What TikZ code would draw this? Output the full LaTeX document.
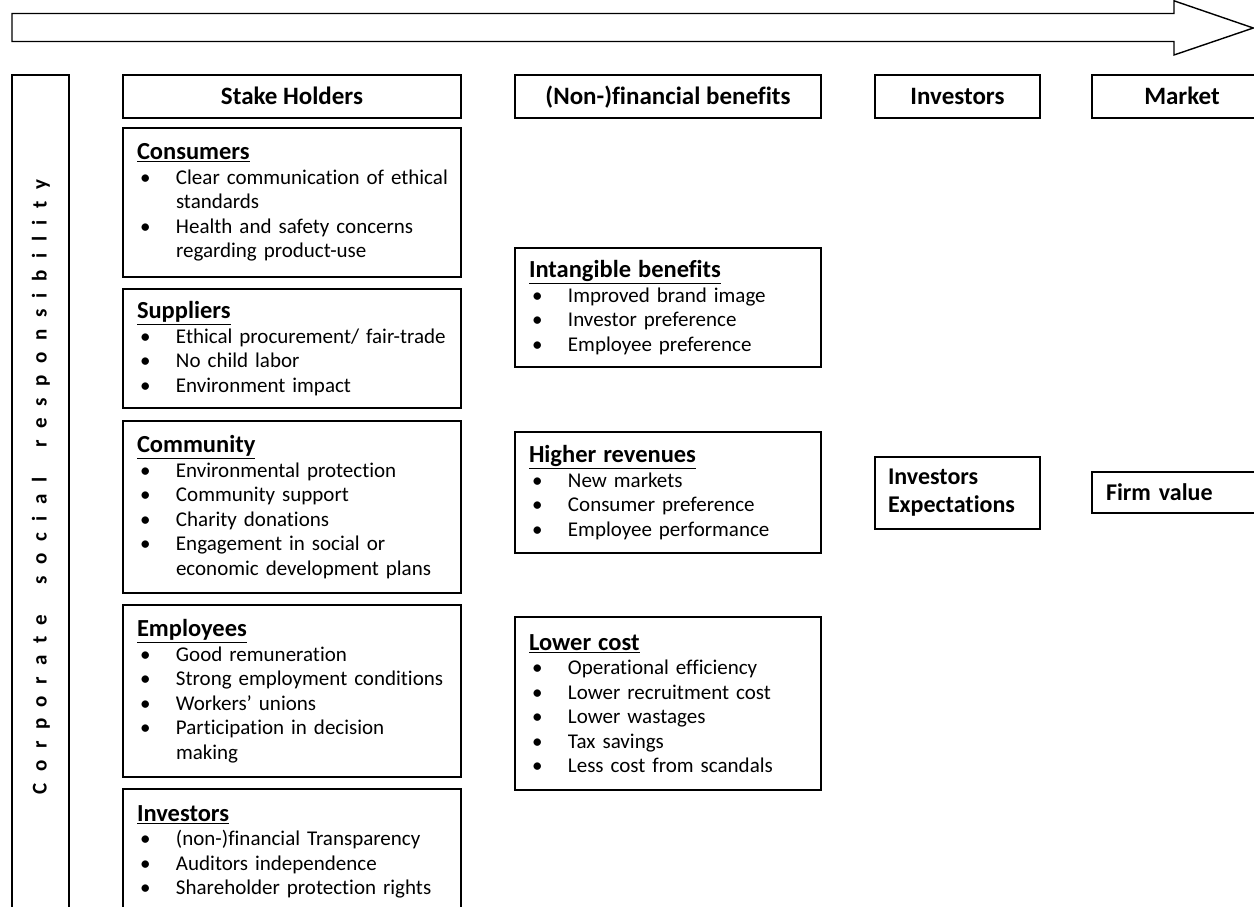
\documentclass[tikz,border=0pt]{standalone}
\usepackage{fontspec}
\setmainfont{Carlito}[Ligatures=NoCommon]
\newfontfamily\csrfont{Carlito}[LetterSpace=55]
\usetikzlibrary{positioning}

\newcommand{\bitem}[1]{\par\hangindent=39pt\hangafter=1\noindent\makebox[39pt][l]{\hspace{3pt}•}#1\par}
\newcommand{\btitle}[1]{{\fontsize{24.5}{27}\selectfont\bfseries\underline{#1}}}

\begin{document}
\begin{tikzpicture}[x=1pt, y=-1pt,
  box/.style={draw, line width=1.4pt, outer sep=0pt, anchor=north west, inner xsep=14pt, inner ysep=6pt,
    align=left, font=\fontsize{21}{24.5}\selectfont},
  sbox/.style={box, text width=310pt},
  mbox/.style={box, text width=278pt},
  head/.style={draw, line width=1.4pt, outer sep=0pt, anchor=north west, minimum height=43pt, inner sep=0pt,
    text height=17pt, text depth=0pt, font=\fontsize{25}{28}\selectfont\bfseries}]
\useasboundingbox (0,0) rectangle (1254,907);
\clip (0,0) rectangle (1254,907);

% flow arrow
\draw[line width=1.4pt] (12,13.5) -- (1174,13.5) -- (1174,0.8) -- (1253.3,28) -- (1174,55) -- (1174,41.5) -- (12,41.5) -- cycle;

% csr column
\node[draw, line width=1.4pt, outer sep=0pt, anchor=north west, minimum width=57pt, minimum height=900pt] (csr) at (12,75) {};
\node[rotate=90, font=\fontsize{21}{24}\selectfont] (csrlabel) at (41,487)
  {\csrfont\bfseries Corporate\hspace{14pt} social\hspace{14pt} responsibility};

% headers
\node[head, minimum width=338pt] (hstake) at (123,75) {Stake Holders};
\node[head, minimum width=306pt] (hbenefit) at (515,75) {(Non-)financial benefits};
\node[head, minimum width=165pt] (hinvest) at (875,75) {Investors};
\node[head, minimum width=180pt] (hmarket) at (1092,75) {Market};

% stake holders
\node[sbox, minimum height=149pt] (consumers) at (123,128) {\btitle{Consumers}
  \bitem{\mbox{Clear communication of ethical}\newline standards}
  \bitem{\mbox{Health and safety concerns}\newline regarding product-use}};
\node[sbox, minimum height=119pt, below=12pt of consumers.south west, anchor=north west] (suppliers) {\btitle{Suppliers}
  \bitem{\mbox{Ethical procurement/ fair-trade}}
  \bitem{No child labor}
  \bitem{Environment impact}};
\node[sbox, minimum height=172pt, below=13pt of suppliers.south west, anchor=north west] (community) {\btitle{Community}
  \bitem{Environmental protection}
  \bitem{Community support}
  \bitem{Charity donations}
  \bitem{\mbox{Engagement in social or}\newline \mbox{economic development plans}}};
\node[sbox, minimum height=172pt, below=12pt of community.south west, anchor=north west] (employees) {\btitle{Employees}
  \bitem{Good remuneration}
  \bitem{\mbox{Strong employment conditions}}
  \bitem{Workers’ unions}
  \bitem{\mbox{Participation in decision}\newline making}};
\node[sbox, minimum height=126pt, below=12pt of employees.south west, anchor=north west] (investors) {\btitle{Investors}
  \bitem{\mbox{(non-)financial Transparency}}
  \bitem{Auditors independence}
  \bitem{\mbox{Shareholder protection rights}}};

% benefits
\node[mbox, minimum height=119pt] (intangible) at (515,248) {\btitle{Intangible benefits}
  \bitem{Improved brand image}
  \bitem{Investor preference}
  \bitem{Employee preference}};
\node[mbox, minimum height=121pt] (revenues) at (515,432) {\btitle{Higher revenues}
  \bitem{New markets}
  \bitem{Consumer preference}
  \bitem{Employee performance}};
\node[mbox, minimum height=173pt] (lowcost) at (515,617) {\btitle{Lower cost}
  \bitem{Operational efficiency}
  \bitem{Lower recruitment cost}
  \bitem{Lower wastages}
  \bitem{Tax savings}
  \bitem{Less cost from scandals}};

% investors and market
\node[box, text width=139pt, inner xsep=13pt, minimum height=72pt, font=\fontsize{24}{28}\selectfont\bfseries] (expect) at (875,457) {Investors\\Expectations};
\node[box, text width=152pt, minimum height=41pt, font=\fontsize{24}{26}\selectfont\bfseries] (firmvalue) at (1092,472) {Firm value};
\end{tikzpicture}
\end{document}
